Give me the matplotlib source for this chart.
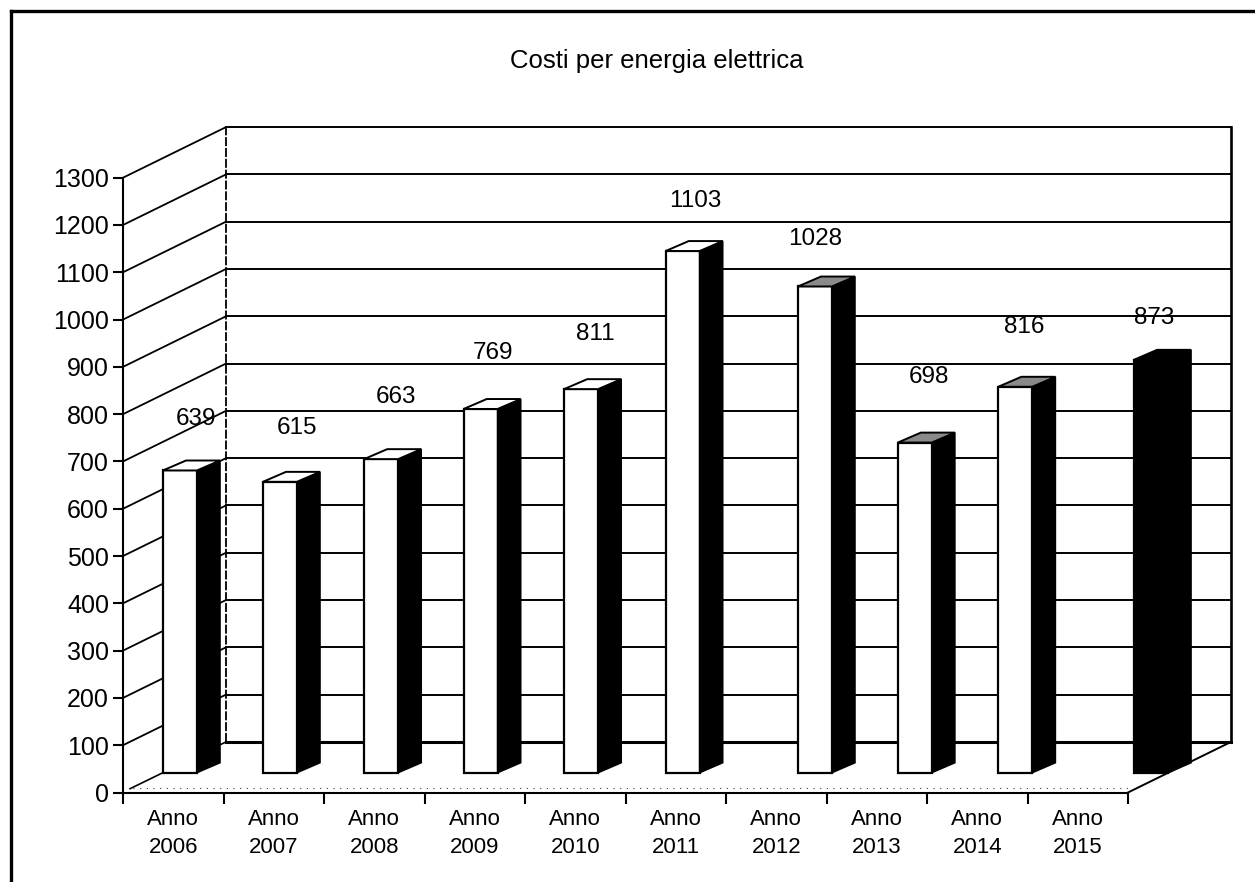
import matplotlib
matplotlib.use("Agg")
import matplotlib.pyplot as plt
from matplotlib.lines import Line2D
from matplotlib.patches import Polygon

plt.rcParams['font.family'] = ['Liberation Sans', 'DejaVu Sans']

title = "Costi per energia elettrica"
years = ["2006", "2007", "2008", "2009", "2010", "2011", "2012", "2013", "2014", "2015"]
values = [639, 615, 663, 769, 811, 1103, 1028, 698, 816, 873]
yticks = list(range(0, 1301, 100))

# Reference layout of the hand-placed bars and value labels, in axis units
bar_slots = [0.398, 1.393, 2.40, 3.39, 4.39, 5.40, 6.716, 7.71, 8.71, 10.06]
label_slots = [0.726, 1.73, 2.72, 3.68, 4.70, 5.69, 6.89, 8.02, 8.97, 10.26]
label_heights = [790, 771, 836, 929, 969, 1251, 1170, 878, 984, 1003]
front_colors = ['white'] * 9 + ['black']
top_colors = ['white'] * 6 + ['#8a8a8a', '#8a8a8a', '#8a8a8a', 'black']

W, H = 1255, 882
fig = plt.figure(figsize=(W / 100, H / 100), dpi=100, facecolor='white')
ax = fig.add_axes([123 / W, 1 - 792.5 / H, (1128 - 123) / W, (792.5 - 177.7) / H])
ax.set_xlim(0, 10)
ax.set_ylim(0, 1300)
ax.set_facecolor('none')

DX, DY = 1.025, 107          # wall depth
BASE = 42                    # bar base above front floor edge
BW, SX, SY = 0.338, 0.229, 21  # bar width and bar depth
END = 10.0

kw = dict(color='black', clip_on=False)
# Walls and gridlines
for v in yticks[1:]:
    ax.plot([0, DX], [v, v + DY], lw=1.3, zorder=1, **kw)
    ax.plot([DX, END + DX], [v + DY, v + DY], lw=1.4, zorder=1, **kw)
ax.plot([DX, END + DX], [DY, DY], lw=2.2, zorder=1, **kw)
ax.plot([DX, DX], [DY, 1300 + DY], lw=1.3, ls=(0, (5, 1)), zorder=1, **kw)
ax.plot([END + DX, END + DX], [DY, 1300 + DY], lw=1.9, zorder=1, **kw)
ax.plot([0.07, DX], [8, DY], lw=1.2, zorder=1, **kw)
ax.plot([END, END + DX], [0, DY], lw=1.4, zorder=1, **kw)
ax.plot([0.1, END], [10, 10], lw=0.8, ls=(0, (1, 5)), color='#444444', clip_on=False, zorder=1)

# Bars
ax.bar(bar_slots, values, width=BW, bottom=BASE, align='edge', color=front_colors,
       edgecolor='black', linewidth=1.6, clip_on=False, zorder=3)
for x, v, tc in zip(bar_slots, values, top_colors):
    t = v + BASE
    ax.add_patch(Polygon([(x + BW, BASE), (x + BW + SX, BASE + SY), (x + BW + SX, t + SY), (x + BW, t)],
                         closed=True, fc='black', ec='black', lw=1.2, clip_on=False, zorder=3))
    ax.add_patch(Polygon([(x, t), (x + SX, t + SY), (x + BW + SX, t + SY), (x + BW, t)],
                         closed=True, fc=tc, ec='black', lw=1.4, clip_on=False, zorder=3))

# Value labels
for x, y, v in zip(label_slots, label_heights, values):
    ax.text(x, y, str(v), ha='center', va='center', fontsize=17.5, color='black', clip_on=False, zorder=5)

# Axes
for s in ('top', 'right'):
    ax.spines[s].set_visible(False)
for s in ('left', 'bottom'):
    ax.spines[s].set_linewidth(1.5)
ax.set_yticks(yticks)
ax.set_yticklabels([str(v) for v in yticks], fontsize=18)
ax.tick_params(axis='y', length=7, width=1.5, pad=3)
ax.set_xticks(range(11))
ax.set_xticklabels([])
ax.tick_params(axis='x', which='major', length=8, width=1.5)
ax.set_xticks([i + 0.5 for i in range(10)], minor=True)
ax.set_xticklabels(["Anno\n" + y for y in years], minor=True, fontsize=16, linespacing=1.4)
ax.tick_params(axis='x', which='minor', length=0, pad=12)

fig.text(657 / W, 1 - 61 / H, title, ha='center', va='center', fontsize=18.5)

# Scanned page frame
fig.add_artist(Line2D([11 / W, 1], [1 - 11 / H, 1 - 11 / H], color='black', lw=2.4))
fig.add_artist(Line2D([11 / W, 11 / W], [0, 1 - 11 / H], color='black', lw=2.4))

fig.savefig('out.png', dpi=100)
